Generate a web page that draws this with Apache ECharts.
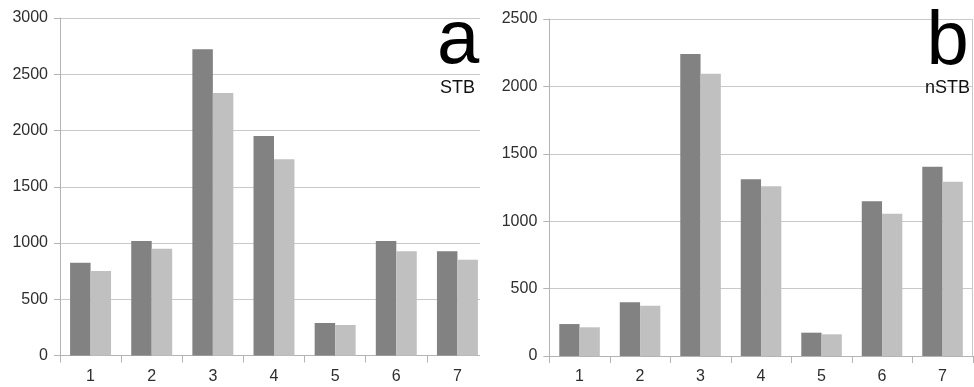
<!DOCTYPE html>
<html>
<head>
<meta charset="utf-8">
<script src="https://cdn.jsdelivr.net/npm/echarts@6/dist/echarts.min.js"></script>
<style>
  html, body { margin: 0; padding: 0; background: #fff; }
  #wrap { position: relative; width: 974px; height: 387px; overflow: hidden; }
  #clipA { position: absolute; left: 0; top: 0; width: 480px; height: 387px; overflow: hidden; }
  #chartA { position: absolute; left: 0; top: 0; width: 500px; height: 387px; }
  #chartB { position: absolute; left: 480px; top: 0; width: 494px; height: 387px; }
</style>
</head>
<body>
<div id="wrap">
  <div id="clipA"><div id="chartA"></div></div>
  <div id="chartB"></div>
</div>
<script>
// Categories shared by both panels
const categories = ['1', '2', '3', '4', '5', '6', '7'];

// Panel a (STB)
const stbDark  = [825, 1018, 2722, 1951, 289, 1018, 926];
const stbLight = [751, 949, 2333, 1744, 271, 926, 852];

// Panel b (nSTB)
const nstbDark  = [237, 398, 2240, 1311, 173, 1148, 1404];
const nstbLight = [213, 373, 2094, 1259, 161, 1056, 1293];

const FONT = 'Liberation Sans, Arial, sans-serif';
const DARK = '#828282';
const LIGHT = '#c0c0c0';
const GRID = '#c9c9c9';

function panel(grid, yMax, dark, light, letter, tag, letterPos, tagPos, extraGraphic) {
  return {
    animation: false,
    grid: grid,
    xAxis: {
      type: 'category',
      data: categories,
      boundaryGap: true,
      axisLine: { show: true, lineStyle: { color: '#b4b4b4', width: 1 } },
      axisTick: { show: true, length: 7, lineStyle: { color: '#b4b4b4' } },
      axisLabel: { color: '#2e2e2e', fontSize: 16, fontFamily: FONT, margin: 13 }
    },
    yAxis: {
      type: 'value',
      min: 0,
      max: yMax,
      interval: 500,
      axisLine: { show: true, lineStyle: { color: '#b4b4b4', width: 1 } },
      axisTick: { show: true, length: 6, lineStyle: { color: '#b4b4b4' } },
      axisLabel: { color: '#2e2e2e', fontSize: 16, fontFamily: FONT, margin: 12,
                   formatter: function (v) { return String(v); } },
      splitLine: { show: true, lineStyle: { color: GRID, width: 1 } }
    },
    series: [
      { type: 'bar', data: dark, barGap: '0%', barCategoryGap: '33%',
        itemStyle: { color: DARK }, z: 2 },
      { type: 'bar', data: light, barGap: '0%', barCategoryGap: '33%',
        itemStyle: { color: LIGHT }, z: 2 }
    ],
    graphic: [
      { type: 'text', z: 10, x: letterPos[0], y: letterPos[1],
        style: { text: letter, fontSize: 76, fontFamily: FONT, fill: '#000',
                 align: 'left', verticalAlign: 'top' } },
      { type: 'text', z: 10, x: tagPos[0], y: tagPos[1],
        style: { text: tag, fontSize: 18, fontFamily: FONT, fill: '#111',
                 align: 'left', verticalAlign: 'top' } }
    ].concat(extraGraphic || [])
  };
}

const chartA = echarts.init(document.getElementById('chartA'), null, { renderer: 'canvas' });
chartA.setOption(panel(
  { left: 60, top: 18, width: 428, height: 337.5 },
  3000, stbDark, stbLight, 'a', 'STB', [437, 4], [440, 79]
));

const chartB = echarts.init(document.getElementById('chartB'), null, { renderer: 'canvas' });
chartB.setOption(panel(
  { left: 69.3, top: 19, width: 423.5, height: 337 },
  2500, nstbDark, nstbLight, 'b', 'nSTB', [446.5, 5], [445, 79],
  [{ type: 'line', z: 1, shape: { x1: 492.5, y1: 19, x2: 492.5, y2: 356 },
     style: { stroke: GRID, lineWidth: 1 } }]
));
</script>
</body>
</html>
